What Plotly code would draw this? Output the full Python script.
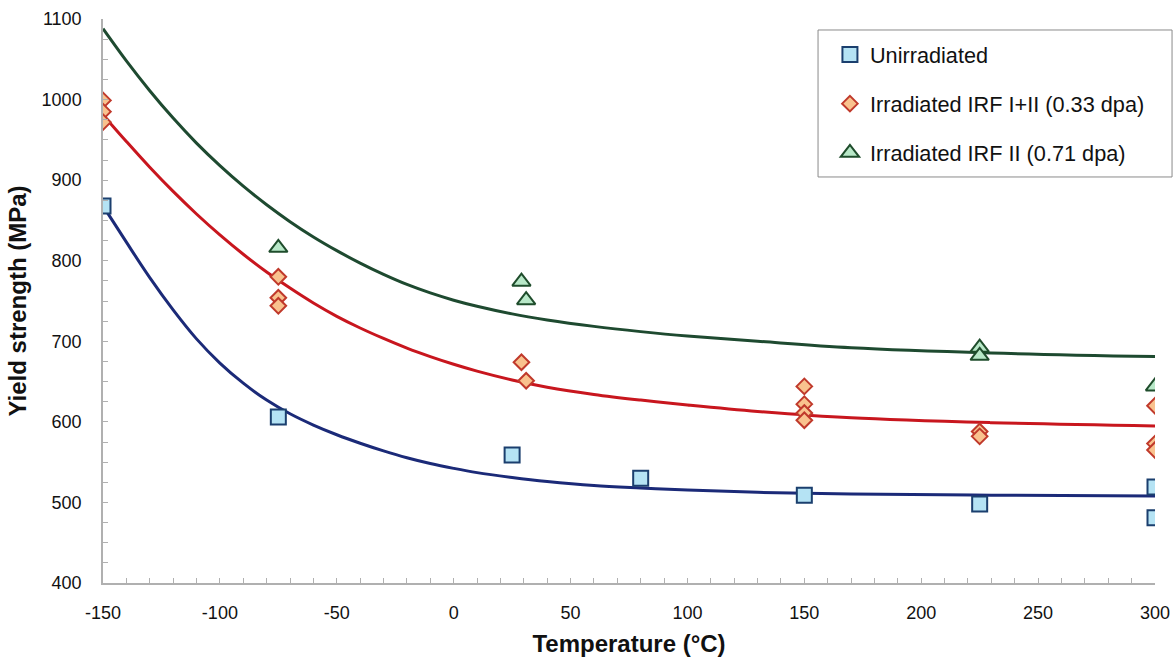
import plotly.graph_objects as go

# Measured yield strength (MPa) versus test temperature (°C)
unirr_T = [-150, -75, 25, 80, 150, 225, 300, 300]
unirr_Y = [868, 606, 559, 530, 509, 498, 519, 481]

irf12_T = [-150, -150, -150, -75, -75, -75, 29, 31, 150, 150, 150, 150, 225, 225, 300, 300, 300]
irf12_Y = [999, 985, 972, 780, 754, 744, 674, 651, 644, 622, 611, 602, 588, 582, 620, 573, 565]

irf2_T = [-75, 29, 31, 225, 225, 300]
irf2_Y = [816, 774, 751, 692, 682, 644]

# Fitted trend curves, sampled along the drawn fit lines
fit_T = [-150, -140, -130, -120, -110, -100, -90, -80, -70, -60, -50, -40, -30,
         -20, -10, 0, 10, 25, 40, 60, 80, 100, 130, 170, 230, 300]
fit_unirr_Y = [868, 823, 779, 739, 703, 673, 648, 627, 610, 596, 584, 573.5, 564,
               555.5, 548.3, 542.3, 537, 531, 526, 521, 518, 515.5, 512.5, 510.5, 509, 508]
fit_irf12_Y = [981, 948, 916, 886, 858, 832, 808, 786, 766, 747.5, 731, 716.5, 703.5,
               691.5, 681, 671.5, 663, 652, 643, 634, 627, 621, 613, 605, 599, 595]
fit_irf2_Y = [1088, 1048, 1011, 977, 946, 918, 892.5, 869.5, 848.5, 829.5, 812.5, 797, 783,
              770.5, 760, 751, 743.5, 734, 726.5, 718.5, 712, 706.5, 700, 692, 685.5, 681]

series_names = ["Unirradiated", "Irradiated IRF I+II (0.33 dpa)", "Irradiated IRF II (0.71 dpa)"]

x_tickvals = [-150, -100, -50, 0, 50, 100, 150, 200, 250, 300]
x_ticktext = ["-150", "-100", "-50", "0", "50", "100", "150", "200", "250", "300"]
y_tickvals = [400, 500, 600, 700, 800, 900, 1000, 1100]

BLUE_LINE, RED_LINE, GREEN_LINE = "#1b2a78", "#c8161e", "#1e4a30"

fig = go.Figure()

# trend curves (under the markers)
for y, c in [(fit_unirr_Y, BLUE_LINE), (fit_irf12_Y, RED_LINE), (fit_irf2_Y, GREEN_LINE)]:
    fig.add_trace(go.Scatter(x=fit_T, y=y, mode="lines",
                             line=dict(color=c, width=3, shape="spline", smoothing=1.0),
                             showlegend=False, hoverinfo="skip"))

fig.add_trace(go.Scatter(
    x=unirr_T, y=unirr_Y, mode="markers", name=series_names[0], legendgroup="a",
    marker=dict(symbol="square", size=15, color="#b5e3f4",
                line=dict(color="#1b3f6e", width=2))))
fig.add_trace(go.Scatter(
    x=irf12_T, y=irf12_Y, mode="markers", name=series_names[1], legendgroup="b",
    marker=dict(symbol="diamond", size=12, color="#f9c28e",
                line=dict(color="#c0392b", width=2))))
fig.add_trace(go.Scatter(
    x=irf2_T, y=irf2_Y, mode="markers", name=series_names[2], legendgroup="c",
    marker=dict(symbol="triangle-up", size=16, color="#b8e8c8",
                line=dict(color="#1f4d2c", width=2))))

AX = "#b0b0b0"
FONT = "Liberation Sans, Arial, sans-serif"

fig.update_layout(
    width=1176, height=657,
    margin=dict(l=103, r=21, t=19, b=74, autoexpand=False),
    paper_bgcolor="white", plot_bgcolor="white",
    font=dict(family=FONT, size=18, color="#111111"),
    showlegend=True,
    legend=dict(x=0.691, y=0.9737, xanchor="left", yanchor="top",
                bgcolor="rgba(0,0,0,0)", borderwidth=0,
                font=dict(family=FONT, size=21.7, color="#111111"),
                tracegroupgap=18, traceorder="grouped"),
    shapes=[dict(type="rect", xref="paper", yref="paper",
                 x0=0.6797, x1=1.0162, y0=0.7199, y1=0.9805,
                 line=dict(color="#8a8a8a", width=1), fillcolor="rgba(0,0,0,0)")],
)

fig.update_xaxes(
    range=[-150, 300], tickvals=x_tickvals, ticktext=x_ticktext,
    automargin=False,
    showgrid=False, zeroline=False,
    showline=True, linecolor=AX, linewidth=1.5,
    ticks="inside", ticklen=5, tickcolor=AX, tickwidth=1,
    minor=dict(dtick=10, tick0=-150, ticks="inside", ticklen=5, tickcolor=AX, tickwidth=1),
    ticklabelstandoff=13,
    tickfont=dict(family=FONT, size=18),
    title=dict(text="<b>Temperature (°C)</b>", font=dict(family=FONT, size=24), standoff=15),
)
fig.update_yaxes(
    range=[400, 1100], tickvals=y_tickvals,
    automargin=False,
    showgrid=False, zeroline=False,
    showline=True, linecolor=AX, linewidth=1.5,
    ticks="inside", ticklen=5, tickcolor=AX, tickwidth=1,
    minor=dict(dtick=25, tick0=400, ticks="inside", ticklen=5, tickcolor=AX, tickwidth=1),
    ticklabelstandoff=16,
    tickfont=dict(family=FONT, size=18),
    title=dict(text="<b>Yield strength (MPa)</b>", font=dict(family=FONT, size=24), standoff=8),
)

fig.write_html("out.html")
